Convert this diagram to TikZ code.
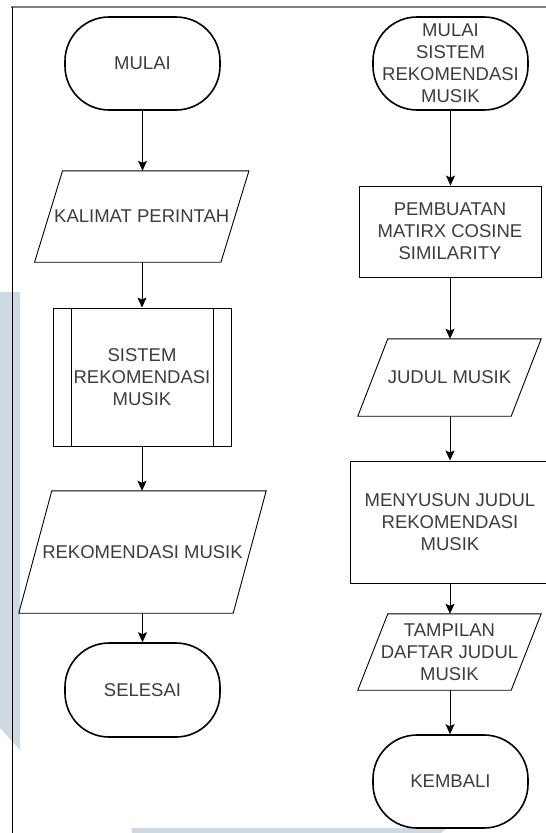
\documentclass[tikz,border=0pt]{standalone}
\usepackage{fontspec}
\setmainfont{Liberation Sans}
\usetikzlibrary{arrows.meta}
\definecolor{txt}{RGB}{60,60,60}
\definecolor{wm}{RGB}{207,217,227}
\definecolor{framegray}{RGB}{128,128,128}
\begin{document}
\begin{tikzpicture}[x=1pt,y=-1pt,
  every node/.style={font=\fontsize{18.5}{22}\selectfont, text=txt, align=center, inner sep=0pt},
  term/.style={draw, line width=1.6pt, rounded corners=44pt, minimum width=155pt, minimum height=93pt},
  procbox/.style={draw, line width=0.9pt},
  iobox/.style={minimum height=#1},
  ioline/.style={line width=0.9pt, line join=miter},
  arr/.style={-{Stealth[length=10pt,width=9pt,inset=2pt]}, line width=1pt}]
\useasboundingbox (0,0) rectangle (546,833);
% watermark
\fill[wm] (0,292) -- (20,292) -- (20,750) -- (0,728) -- cycle;
\fill[wm] (132,828) -- (447,828) -- (441,833) -- (132,833) -- cycle;
% frame
\draw[framegray, line width=2pt] (11,7) -- (546,7);
\draw[black, line width=1pt] (12,7) -- (12,833);

% left column
\node[term] (mulai) at (142.5,63.5) {MULAI};
\node[iobox=91pt, minimum width=186pt] (kal) at (141.75,216.5) {KALIMAT PERINTAH};
\draw[ioline] ([xshift=14pt]kal.north west) -- ([xshift=14pt]kal.north east) -- ([xshift=-14pt]kal.south east) -- ([xshift=-14pt]kal.south west) -- cycle;
\node[procbox, minimum width=178pt, minimum height=138pt] (sis) at (142,377) {SISTEM\\REKOMENDASI\\MUSIK};
\draw[line width=0.9pt] ([xshift=19pt]sis.north west) -- ([xshift=19pt]sis.south west);
\draw[line width=0.9pt] ([xshift=-18pt]sis.north east) -- ([xshift=-18pt]sis.south east);
\node[iobox=122pt, minimum width=214pt] (rek) at (142.5,552) {REKOMENDASI MUSIK};
\draw[ioline] ([xshift=16.5pt]rek.north west) -- ([xshift=16.5pt]rek.north east) -- ([xshift=-16.5pt]rek.south east) -- ([xshift=-16.5pt]rek.south west) -- cycle;
\node[term, minimum height=94pt] (sel) at (142.5,690) {SELESAI};

\draw[arr] (mulai.south) -- (mulai.south |- kal.north);
\draw[arr] (kal.south -| sis.north) -- (sis.north);
\draw[arr] (sis.south) -- (sis.south |- rek.north);
\draw[arr] (rek.south) -- (sel.north);

% right column
\node[term] (ms) at (450.5,63.5) {MULAI\\SISTEM\\REKOMENDASI\\MUSIK};
\node[procbox, minimum width=182pt, minimum height=91pt] (pem) at (450,231.5) {PEMBUATAN\\MATIRX COSINE\\SIMILARITY};
\node[iobox=77pt, minimum width=153pt] (jud) at (449.5,377.5) {JUDUL MUSIK};
\draw[ioline] ([xshift=15pt]jud.north west) -- ([xshift=15pt]jud.north east) -- ([xshift=-15pt]jud.south east) -- ([xshift=-15pt]jud.south west) -- cycle;
\node[procbox, minimum width=200pt, minimum height=122pt] (meny) at (450,522) {MENYUSUN JUDUL\\REKOMENDASI\\MUSIK};
\node[iobox=76pt, minimum width=153pt] (tam) at (449.5,652) {TAMPILAN\\DAFTAR JUDUL\\MUSIK};
\draw[ioline] ([xshift=15pt]tam.north west) -- ([xshift=15pt]tam.north east) -- ([xshift=-15pt]tam.south east) -- ([xshift=-15pt]tam.south west) -- cycle;
\node[term] (kem) at (450.5,781.5) {KEMBALI};

\draw[arr] (ms.south) -- (ms.south |- pem.north);
\draw[arr] (pem.south) -- (pem.south |- jud.north);
\draw[arr] (jud.south -| pem.south) -- (meny.north);
\draw[arr] (meny.south) -- (meny.south |- tam.north);
\draw[arr] (tam.south -| meny.south) -- (meny.south |- kem.north);
\end{tikzpicture}
\end{document}
